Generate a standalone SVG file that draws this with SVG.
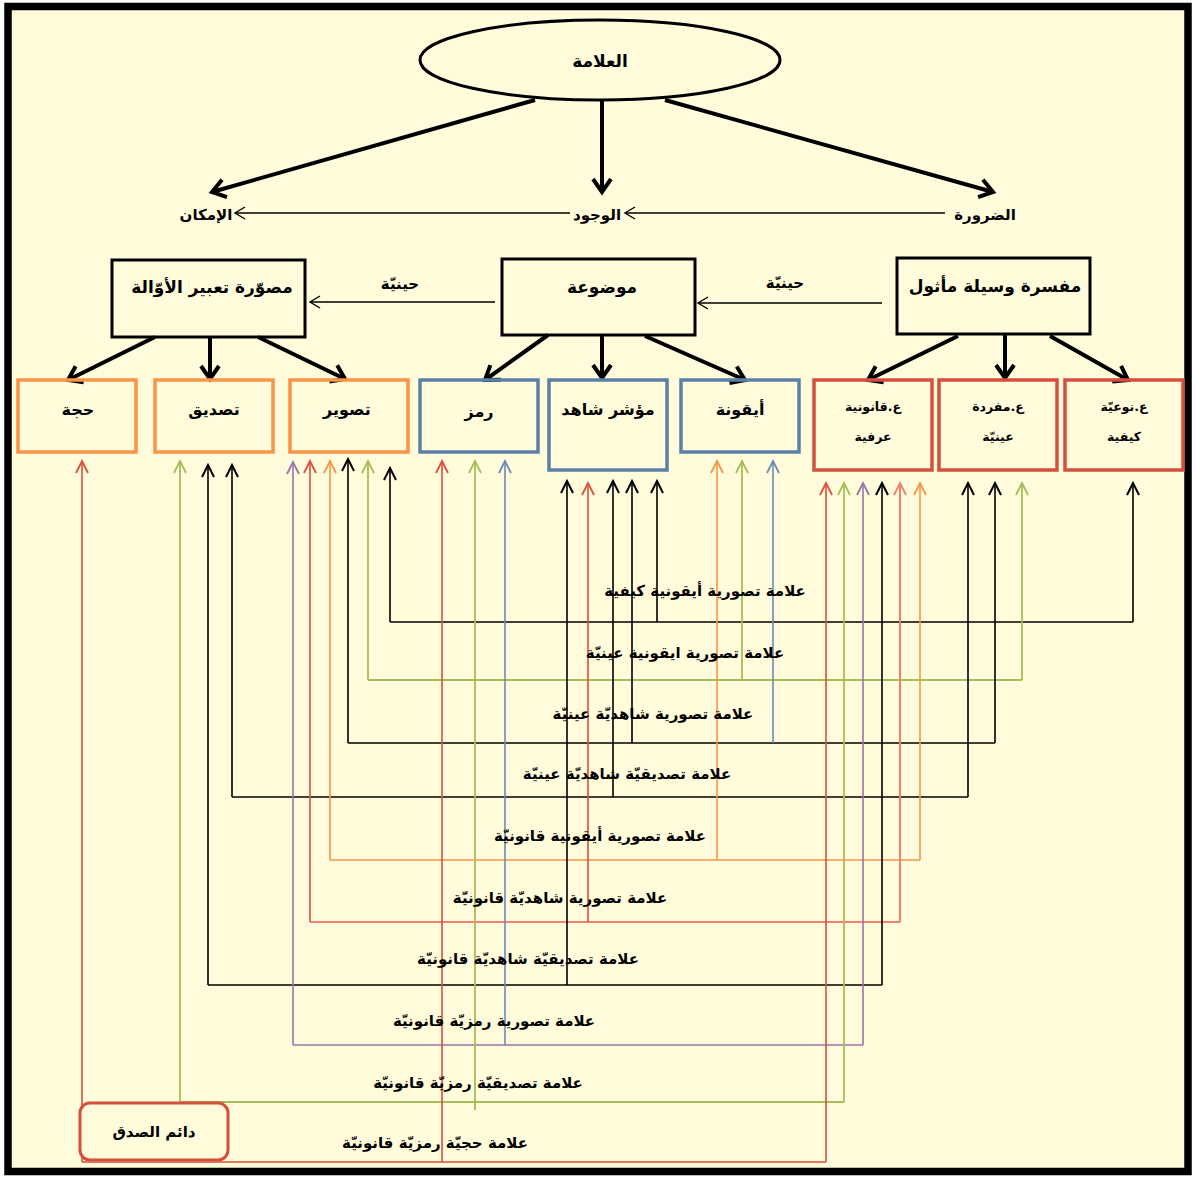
<svg xmlns="http://www.w3.org/2000/svg" width="1195" height="1177" viewBox="0 0 1195 1177">
<style>
text{font-family:"DejaVu Sans","Noto Sans",sans-serif;font-weight:bold;fill:#000;text-anchor:middle;direction:rtl}
.t18{font-size:17px}
.t17{font-size:16px}
.t16{font-size:15px}
.t13{font-size:12.5px}
.lbl{font-size:15px}
.bx{fill:none;stroke:#000;stroke-width:3}
.or{fill:none;stroke:#F79646;stroke-width:3.5}
.bl{fill:none;stroke:#5B80A8;stroke-width:3.5}
.rd{fill:none;stroke:#D4503E;stroke-width:3.5}
.thick{fill:none;stroke:#000;stroke-width:4;marker-end:url(#ah)}
.thin{fill:none;stroke:#000;stroke-width:1.3;marker-end:url(#at)}
.k{fill:none;stroke:#000;stroke-width:1.6}
.r{fill:none;stroke:#D9503C;stroke-width:1.6}
.s{fill:none;stroke:#EE8270;stroke-width:2}
.g{fill:none;stroke:#A6BE57;stroke-width:1.8}
.o{fill:none;stroke:#F79646;stroke-width:1.6}
.b{fill:none;stroke:#6A8DB5;stroke-width:1.6}
.p{fill:none;stroke:#9A74A8;stroke-width:1.6}
.k.v{marker-end:url(#mk)}.r.v{marker-end:url(#mr)}.s.v{marker-end:url(#ms)}.g.v{marker-end:url(#mg)}.o.v{marker-end:url(#mo)}.b.v{marker-end:url(#mb)}.p.v{marker-end:url(#mp)}
</style>
<defs>
<marker id="ah" markerUnits="userSpaceOnUse" markerWidth="24" markerHeight="24" refX="18" refY="12" orient="auto"><path d="M5,3 L18,12 L5,21" fill="none" stroke="#000" stroke-width="4"/></marker>
<marker id="at" markerUnits="userSpaceOnUse" markerWidth="16" markerHeight="16" refX="13" refY="8" orient="auto"><path d="M3,2 L13,8 L3,14" fill="none" stroke="#000" stroke-width="1.4"/></marker>
<marker id="mk" markerUnits="userSpaceOnUse" markerWidth="16" markerHeight="16" refX="14" refY="8" orient="auto"><path d="M2,2 L14,8 L2,14" fill="none" stroke="#000" stroke-width="2"/></marker>
<marker id="mr" markerUnits="userSpaceOnUse" markerWidth="16" markerHeight="16" refX="14" refY="8" orient="auto"><path d="M2,2 L14,8 L2,14" fill="none" stroke="#D9503C" stroke-width="1.8"/></marker>
<marker id="ms" markerUnits="userSpaceOnUse" markerWidth="16" markerHeight="16" refX="14" refY="8" orient="auto"><path d="M2,2 L14,8 L2,14" fill="none" stroke="#EE8270" stroke-width="1.8"/></marker>
<marker id="mg" markerUnits="userSpaceOnUse" markerWidth="16" markerHeight="16" refX="14" refY="8" orient="auto"><path d="M2,2 L14,8 L2,14" fill="none" stroke="#A6BE57" stroke-width="1.8"/></marker>
<marker id="mo" markerUnits="userSpaceOnUse" markerWidth="16" markerHeight="16" refX="14" refY="8" orient="auto"><path d="M2,2 L14,8 L2,14" fill="none" stroke="#F79646" stroke-width="1.8"/></marker>
<marker id="mb" markerUnits="userSpaceOnUse" markerWidth="16" markerHeight="16" refX="14" refY="8" orient="auto"><path d="M2,2 L14,8 L2,14" fill="none" stroke="#6A8DB5" stroke-width="1.8"/></marker>
<marker id="mp" markerUnits="userSpaceOnUse" markerWidth="16" markerHeight="16" refX="14" refY="8" orient="auto"><path d="M2,2 L14,8 L2,14" fill="none" stroke="#9A74A8" stroke-width="1.8"/></marker>
</defs>
<rect x="0" y="0" width="1195" height="1177" fill="#fff"/>
<rect x="8" y="6.5" width="1180" height="1165" fill="#FFFBDB" stroke="#000" stroke-width="7.5"/>

<g id="connectors">
<path class="thick" d="M535,100 L212,192"/>
<path class="thick" d="M602,100 L602,192"/>
<path class="thick" d="M665,100 L993,192"/>
<path class="thin" d="M945,213 L625,213"/>
<path class="thin" d="M570,213 L235,213"/>
<path class="thin" d="M882,303 L698,303"/>
<path class="thin" d="M495,302 L310,302"/>
<path class="thick" d="M155,337 L68,380"/>
<path class="thick" d="M210,337 L210,379"/>
<path class="thick" d="M258,337 L345,379"/>
<path class="thick" d="M548,335 L485,380"/>
<path class="thick" d="M602,335 L602,378"/>
<path class="thick" d="M645,336 L745,380"/>
<path class="thick" d="M958,336 L868,380"/>
<path class="thick" d="M1005,334 L1005,378"/>
<path class="thick" d="M1050,336 L1128,380"/>

<path class="k" d="M390,622 H1133"/>
<path class="k v" d="M390,622 V468"/>
<path class="k v" d="M657,622 V481"/>
<path class="k v" d="M1133,622 V483"/>
<path class="g" d="M368,680 H1022" stroke-width="2.4"/>
<path class="g v" d="M368,680 V461"/>
<path class="g v" d="M742,680 V461"/>
<path class="g v" d="M1022,680 V483"/>
<path class="k" d="M348,743 H995"/>
<path class="k v" d="M348,743 V459"/>
<path class="k v" d="M632,743 V481"/>
<path class="b v" d="M773,743 V461"/>
<path class="k v" d="M995,743 V483"/>
<path class="k" d="M232,797 H968"/>
<path class="k v" d="M232,797 V465"/>
<path class="k v" d="M613,797 V481"/>
<path class="k v" d="M968,797 V483"/>
<path class="o" d="M330,860 H920" stroke-width="2"/>
<path class="o v" d="M330,860 V461"/>
<path class="o v" d="M717,860 V461"/>
<path class="o v" d="M920,860 V483"/>
<path class="s" d="M310,922 H900" stroke-width="2.4"/>
<path class="r v" d="M310,922 V461"/>
<path class="r v" d="M588,922 V483"/>
<path class="s v" d="M900,922 V483"/>
<path class="k" d="M208,985 H882"/>
<path class="k v" d="M208,985 V465"/>
<path class="k v" d="M567,985 V481"/>
<path class="k v" d="M882,985 V483"/>
<path class="p" d="M293,1045 H863"/>
<path class="p v" d="M293,1045 V462"/>
<path class="b v" d="M505,1045 V461"/>
<path class="p v" d="M863,1045 V483"/>
<path class="g" d="M180,1102 H844"/>
<path class="g v" d="M180,1102 V461"/>
<path class="g v" d="M475,1110 V461"/>
<path class="g v" d="M844,1102 V483"/>
<path class="r" d="M82,1162 H826" stroke-width="2"/>
<path class="r v" d="M82,1162 V461"/>
<path class="r v" d="M442,1162 V461"/>
<path class="r v" d="M826,1162 V483"/>
</g>

<g id="n-alamah"><ellipse cx="600" cy="60" rx="180" ry="40" fill="#FFFBDB" stroke="#000" stroke-width="3"/><text class="t18" x="600" y="67">العلامة</text></g>
<g id="n-imkan"><text class="t16" x="206" y="220">الإمكان</text></g>
<g id="n-wujud"><text class="t16" x="597" y="220">الوجود</text></g>
<g id="n-darura"><text class="t16" x="985" y="220">الضرورة</text></g>

<g id="n-musawwara"><rect class="bx" x="112" y="260" width="193" height="77"/><text class="t18" x="212" y="293">مصوّرة تعبير الأوّالة</text></g>
<g id="n-mawdua"><rect class="bx" x="502" y="259" width="193" height="76"/><text class="t18" x="602" y="293">موضوعة</text></g>
<g id="n-mufassira"><rect class="bx" x="897" y="258" width="193" height="76"/><text class="t18" x="995" y="292" font-size="16px">مفسرة وسيلة مأثول</text></g>
<g id="l-hiniya1"><text class="t16" x="785" y="288">حينيّة</text></g>
<g id="l-hiniya2"><text class="t16" x="400" y="289">حينيّة</text></g>

<g id="n-hujja"><rect class="or" x="18" y="380" width="118" height="72"/><text class="t17" x="78" y="415">حجة</text></g>
<g id="n-tasdiq"><rect class="or" x="155" y="380" width="118" height="72"/><text class="t17" x="214" y="415">تصديق</text></g>
<g id="n-taswir"><rect class="or" x="290" y="380" width="118" height="72"/><text class="t17" x="347" y="415">تصوير</text></g>
<g id="n-ramz"><rect class="bl" x="420" y="380" width="118" height="72"/><text class="t17" x="479" y="417">رمز</text></g>
<g id="n-muashir"><rect class="bl" x="549" y="380" width="118" height="90"/><text class="t17" x="608" y="415">مؤشر شاهد</text></g>
<g id="n-iquna"><rect class="bl" x="681" y="380" width="118" height="72"/><text class="t17" x="740" y="415">أيقونة</text></g>
<g id="n-qanuniya"><rect class="rd" x="814" y="380" width="118" height="90"/><text class="t13" x="873" y="411">ع.قانونية</text><text class="t13" x="873" y="441">عرفية</text></g>
<g id="n-mufrada"><rect class="rd" x="939" y="380" width="118" height="90"/><text class="t13" x="998" y="411">ع.مفردة</text><text class="t13" x="998" y="441">عينيّة</text></g>
<g id="n-nawiya"><rect class="rd" x="1065" y="380" width="118" height="90"/><text class="t13" x="1124" y="411">ع.نوعيّة</text><text class="t13" x="1124" y="441">كيفية</text></g>

<g id="n-daim"><rect x="80" y="1103" width="148" height="57" rx="10" fill="#FFFBDB" stroke="#D4503E" stroke-width="3"/><text class="t16" x="154" y="1137" font-size="14px">دائم الصدق</text></g>

<g id="labels">
<text class="lbl" x="705" y="596">علامة تصورية أيقونية كيفية</text>
<text class="lbl" x="685" y="658">علامة تصورية ايقونية عينيّة</text>
<text class="lbl" x="653" y="719">علامة تصورية شاهديّة عينيّة</text>
<text class="lbl" x="627" y="779">علامة تصديقيّة شاهديّة عينيّة</text>
<text class="lbl" x="600" y="841">علامة تصورية أيقونية قانونيّة</text>
<text class="lbl" x="560" y="903">علامة تصورية شاهديّة قانونيّة</text>
<text class="lbl" x="528" y="964">علامة تصديقيّة شاهديّة قانونيّة</text>
<text class="lbl" x="494" y="1026">علامة تصورية رمزيّة قانونيّة</text>
<text class="lbl" x="478" y="1088">علامة تصديقيّة رمزيّة قانونيّة</text>
<text class="lbl" x="435" y="1148">علامة حجيّة رمزيّة قانونيّة</text>
</g>
</svg>
